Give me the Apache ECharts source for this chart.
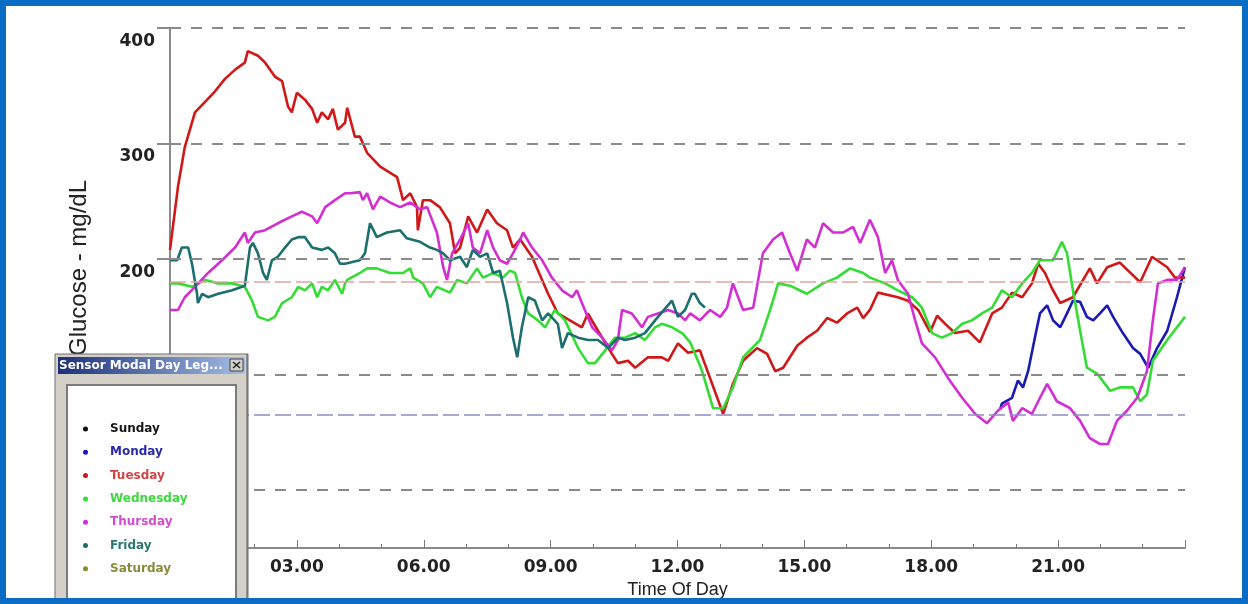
<!DOCTYPE html>
<html><head><meta charset="utf-8">
<script src="https://cdn.jsdelivr.net/npm/echarts@6/dist/echarts.min.js"></script>
<style>html,body{margin:0;padding:0;background:#fff}#c{width:1248px;height:604px}</style>
</head><body><div id="c"></div>
<script>
// ---- data (hour of day, glucose mg/dL) ----
const dayNames = ['Sunday','Monday','Tuesday','Wednesday','Thursday','Friday','Saturday'];
const sunday = [];
const monday = [[19.63,70],[19.67,75],[19.91,80],[20.05,95],[20.17,89],[20.29,103],[20.45,132],[20.57,153],[20.74,160],[20.88,147],[21.05,141],[21.21,153],[21.35,164],[21.52,163],[21.68,150],[21.83,147],[21.99,153],[22.16,160],[22.30,150],[22.53,136],[22.77,123],[22.94,118],[23.13,106],[23.34,123],[23.58,138],[23.81,167],[24,193]];
const tuesday = [[0,208],[0.19,263],[0.35,297],[0.59,327],[0.83,336],[1.06,345],[1.30,356],[1.54,364],[1.77,370],[1.84,380],[2.08,376],[2.25,370],[2.48,358],[2.65,354],[2.79,332],[2.88,327],[3.00,344],[3.19,338],[3.36,330],[3.48,318],[3.59,327],[3.74,321],[3.85,330],[3.97,312],[4.14,318],[4.19,331],[4.37,306],[4.49,306],[4.66,292],[4.97,280],[5.37,271],[5.51,251],[5.68,257],[5.84,245],[5.86,225],[5.98,251],[6.15,251],[6.38,245],[6.62,231],[6.74,205],[6.86,210],[7.05,237],[7.26,223],[7.50,243],[7.73,231],[7.97,225],[8.11,210],[8.28,217],[8.56,202],[8.94,170],[9.17,153],[9.74,141],[9.88,153],[10.12,138],[10.45,118],[10.59,110],[10.83,112],[11.00,106],[11.30,115],[11.63,115],[11.78,112],[12.01,127],[12.25,119],[12.53,121],[13.08,66],[13.31,92],[13.55,112],[13.88,123],[14.12,118],[14.31,103],[14.50,106],[14.83,125],[15.06,132],[15.30,138],[15.54,149],[15.77,145],[16.01,153],[16.25,158],[16.39,149],[16.55,156],[16.74,171],[17.21,167],[17.45,164],[17.69,156],[17.97,137],[18.14,151],[18.33,144],[18.56,136],[18.87,138],[19.15,128],[19.44,153],[19.67,158],[19.91,171],[20.15,167],[20.38,179],[20.53,196],[20.69,188],[20.85,175],[21.05,162],[21.35,167],[21.75,192],[21.92,179],[22.16,193],[22.46,197],[22.94,180],[23.22,202],[23.58,193],[23.76,184],[24,184]];
const wednesday = [[0,179],[0.19,179],[0.52,176],[0.83,182],[1.14,179],[1.47,179],[1.77,176],[1.94,164],[2.08,150],[2.32,147],[2.48,150],[2.65,162],[2.88,167],[3.03,176],[3.19,173],[3.36,179],[3.48,167],[3.59,176],[3.74,173],[3.90,182],[4.07,170],[4.14,179],[4.19,182],[4.49,188],[4.66,192],[4.89,192],[5.20,188],[5.51,188],[5.68,192],[5.75,184],[5.98,179],[6.15,167],[6.31,176],[6.62,171],[6.79,182],[7.02,179],[7.26,192],[7.40,184],[7.64,188],[7.87,184],[8.04,190],[8.16,188],[8.32,167],[8.47,153],[8.70,147],[8.87,141],[9.10,156],[9.34,147],[9.65,123],[9.88,110],[10.05,110],[10.29,121],[10.52,132],[10.76,132],[11.00,136],[11.23,130],[11.47,141],[11.63,144],[11.87,141],[12.11,136],[12.30,128],[12.53,108],[12.60,101],[12.84,71],[13.08,71],[13.31,89],[13.55,115],[13.95,130],[14.19,156],[14.38,179],[14.66,177],[15.06,170],[15.44,179],[15.77,184],[16.08,192],[16.39,188],[16.55,184],[16.91,179],[17.21,173],[17.55,167],[17.78,158],[18.02,136],[18.25,132],[18.49,136],[18.73,144],[18.96,147],[19.20,153],[19.44,158],[19.67,173],[19.91,167],[20.15,179],[20.38,188],[20.57,199],[20.88,199],[21.09,215],[21.21,205],[21.35,173],[21.52,138],[21.68,106],[21.92,101],[22.23,86],[22.46,89],[22.77,89],[22.94,77],[23.10,83],[23.24,112],[23.58,130],[23.81,141],[24,150]];
const thursday = [[0,156],[0.19,156],[0.35,167],[0.59,176],[0.90,188],[1.23,199],[1.54,210],[1.77,223],[1.84,214],[2.01,223],[2.25,225],[2.55,231],[2.88,237],[3.12,241],[3.36,237],[3.48,231],[3.67,245],[3.90,251],[4.14,257],[4.26,257],[4.49,258],[4.56,251],[4.66,257],[4.80,243],[4.97,254],[5.20,249],[5.44,245],[5.68,249],[5.91,243],[6.08,245],[6.31,223],[6.46,193],[6.55,182],[6.67,205],[6.86,217],[7.05,231],[7.16,210],[7.33,205],[7.50,225],[7.64,210],[7.80,199],[7.97,196],[8.11,205],[8.28,217],[8.35,223],[8.56,210],[8.80,199],[9.03,184],[9.27,173],[9.51,167],[9.62,173],[9.74,162],[9.98,141],[10.22,132],[10.45,121],[10.59,130],[10.69,156],[10.92,153],[11.16,141],[11.30,150],[11.54,153],[11.78,156],[12.01,153],[12.18,147],[12.30,153],[12.53,147],[12.77,156],[13.01,150],[13.17,158],[13.31,179],[13.55,156],[13.79,158],[14.02,205],[14.26,217],[14.47,223],[14.66,205],[14.83,190],[15.06,217],[15.25,210],[15.44,231],[15.68,223],[15.91,223],[16.15,228],[16.32,214],[16.55,234],[16.74,219],[16.91,188],[17.07,199],[17.21,182],[17.45,170],[17.62,147],[17.78,127],[18.09,115],[18.40,97],[18.73,80],[19.04,66],[19.32,58],[19.58,69],[19.82,76],[19.93,60],[20.15,71],[20.38,66],[20.53,77],[20.74,92],[20.97,77],[21.28,71],[21.52,60],[21.75,45],[21.99,40],[22.18,40],[22.39,60],[22.63,69],[22.87,80],[23.10,103],[23.24,147],[23.36,179],[23.58,182],[23.81,182],[24,193]];
const friday = [[0,199],[0.17,199],[0.28,210],[0.43,210],[0.52,196],[0.64,170],[0.66,162],[0.76,170],[0.90,167],[1.14,170],[1.47,173],[1.77,177],[1.89,210],[1.96,214],[2.08,205],[2.20,188],[2.29,182],[2.41,199],[2.55,202],[2.72,210],[2.88,217],[3.03,219],[3.19,219],[3.36,210],[3.59,208],[3.74,210],[3.90,205],[4.02,196],[4.14,196],[4.26,197],[4.49,199],[4.61,205],[4.73,231],[4.89,219],[5.13,223],[5.44,225],[5.60,218],[5.91,215],[6.15,210],[6.31,208],[6.46,205],[6.62,199],[6.86,202],[7.02,193],[7.16,208],[7.33,202],[7.50,205],[7.64,188],[7.80,190],[7.97,162],[8.11,132],[8.21,115],[8.32,141],[8.47,167],[8.63,164],[8.80,147],[8.94,153],[9.17,144],[9.27,123],[9.41,136],[9.65,132],[9.88,130],[10.12,130],[10.36,123],[10.59,132],[10.76,130],[11.00,132],[11.23,136],[11.47,147],[11.68,156],[11.87,164],[12.01,150],[12.18,156],[12.34,170],[12.41,170],[12.53,162],[12.65,158]];
const saturday = [];
const gridValues = [0,100,200,300,400];
const highLimit = 180;
const lowLimit = 65;
const legendTitle = 'Sensor Modal Day Leg...';
const xTitle = 'Time Of Day';
const yTitle = 'Glucose - mg/dL';

// ---- styles ----
const seriesData = [sunday, monday, tuesday, wednesday, thursday, friday, saturday];
const lineColors = ['#111111','#1a1ab4','#d01818','#33dd33','#d22ed2','#1d6e6e','#8a8a30'];
const legendTextColors = ['#151515','#2a2aa8','#d04444','#3ed83e','#d04cd0','#2a7676','#8a8a3a'];

const chart = echarts.init(document.getElementById('c'), null, {renderer:'canvas'});
const labelFont = {fontFamily:'DejaVu Sans', fontWeight:'bold', fontSize:17, color:'#222'};

const series = [{
  type:'line', name:'_grid', data:[], silent:true, z:1, animation:false,
  markLine:{
    silent:true, symbol:'none', label:{show:false}, emphasis:{disabled:true}, animation:false,
    data: gridValues.map(v=>({yAxis:v, lineStyle:{color:'#8a8a8a', type:[11,10], width:2}}))
      .concat([{yAxis:highLimit, lineStyle:{color:'#e0a4a4', type:[16,5], width:1.5}},
               {yAxis:lowLimit, lineStyle:{color:'#8c8cc8', type:[16,5], width:1.5}}])
  }
}].concat(dayNames.map((n,i)=>({
  name:n, type:'line', data:seriesData[i], symbol:'none', showSymbol:false, z:3,
  lineStyle:{color:lineColors[i], width:2.6}, itemStyle:{color:lineColors[i]},
  emphasis:{disabled:true}, animation:false
})));

chart.setOption({
  backgroundColor:'#ffffff',
  animation:false,
  grid:{left:170, right:63, top:28, bottom:56},
  xAxis:{
    type:'value', min:0, max:24, interval:3,
    axisLine:{onZero:false, lineStyle:{color:'#8a8a8a', width:2}},
    axisTick:{inside:true, length:8, lineStyle:{color:'#777', width:1}},
    minorTick:{show:true, splitNumber:3, length:4, lineStyle:{color:'#777', width:1}},
    splitLine:{show:false},
    axisLabel:Object.assign({margin:11, formatter:v=> (v===0||v===24)?'':((v<10?'0':'')+v+'.00')}, labelFont),
    name:xTitle, nameLocation:'middle', nameGap:32,
    nameTextStyle:{fontFamily:'Liberation Sans', fontSize:18, color:'#222'}
  },
  yAxis:{
    type:'value', min:-50, max:400, interval:50,
    axisLine:{show:true, lineStyle:{color:'#8a8a8a', width:2}},
    axisTick:{show:true, customValues:gridValues, length:13, lineStyle:{color:'#8a8a8a', width:2}},
    axisLabel:Object.assign({customValues:gridValues, margin:15, verticalAlign:'top', padding:[5,0,0,0]}, labelFont),
    splitLine:{show:false}
  },
  legend:{
    data: dayNames.map((n,i)=>({name:n, textStyle:{color:legendTextColors[i]}})),
    orient:'vertical', left:78, top:417, itemWidth:5, itemHeight:5, itemGap:9.3, icon:'circle',
    selectedMode:false, z:60,
    textStyle:{fontFamily:'DejaVu Sans', fontWeight:'bold', fontSize:12, lineHeight:14, padding:[0,0,0,17]}
  },
  graphic:[
    {type:'text', x:79, y:268, rotation:Math.PI/2, z:10,
     style:{text:yTitle, font:'24px "Liberation Sans"', fill:'#222', align:'center', verticalAlign:'middle'}},
    {type:'rect', z:50, shape:{x:55,y:354,width:193,height:260}, style:{fill:'#d4d0c8', stroke:'#6e6e6e', lineWidth:1}},
    {type:'rect', z:51, shape:{x:58,y:357,width:187,height:17},
     style:{fill:new echarts.graphic.LinearGradient(0,0,1,0,[{offset:0,color:'#1c2f78'},{offset:1,color:'#a4bde6'}])}},
    {type:'text', z:52, x:59, y:366, style:{text:legendTitle, font:'bold 12px "DejaVu Sans"', fill:'#ffffff', verticalAlign:'middle'}},
    {type:'rect', z:52, shape:{x:230,y:359,width:13,height:12}, style:{fill:'#d4d0c8', stroke:'#404040', lineWidth:1}},
    {type:'line', z:53, shape:{x1:233,y1:362,x2:240,y2:368}, style:{stroke:'#202020', lineWidth:1.5}},
    {type:'line', z:53, shape:{x1:240,y1:362,x2:233,y2:368}, style:{stroke:'#202020', lineWidth:1.5}},
    {type:'rect', z:51, shape:{x:67,y:385,width:169,height:230}, style:{fill:'#ffffff', stroke:'#7a7a7a', lineWidth:2}},
    {type:'line', z:51, shape:{x1:247,y1:354,x2:247,y2:604}, style:{stroke:'#555', lineWidth:1}},
    {type:'rect', z:100, shape:{x:3,y:3,width:1242,height:598}, style:{fill:'none', stroke:'#0b6cc4', lineWidth:6}}
  ],
  series: series
});
</script></body></html>
